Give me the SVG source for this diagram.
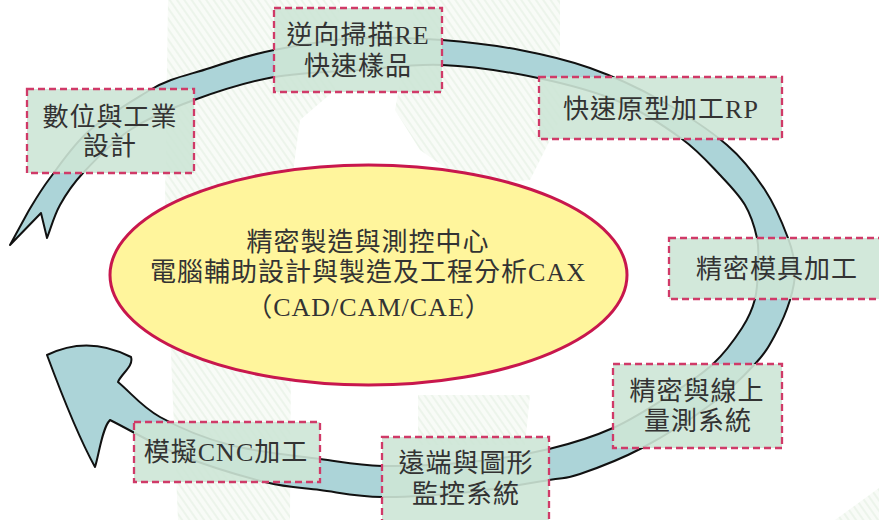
<svg xmlns="http://www.w3.org/2000/svg" width="879" height="520" viewBox="0 0 879 520">
  <defs>
    <pattern id="hatch" width="6" height="6" patternUnits="userSpaceOnUse" patternTransform="rotate(-35)">
      <rect width="6" height="6" fill="#f3f8f1"/>
      <line x1="1" y1="0" x2="1" y2="6" stroke="#dcebd8" stroke-width="1.6"/>
    </pattern>
    <style>
      .box { fill: #cde6d6; fill-opacity: 0.9; stroke: #d03a68; stroke-width: 2.3; stroke-dasharray: 7 4; }
      .lbl { font-family: "Liberation Serif", "Noto Sans CJK TC", serif; font-size: 26px; letter-spacing: 1px; fill: #333333; text-anchor: middle; }
      .band { fill: #acd4d8; stroke: #111; stroke-width: 2; stroke-linejoin: round; }
      .hub { fill: #fff59c; stroke: #c8174d; stroke-width: 3; }
      .tex { fill: url(#hatch); opacity: 0.6; }
    </style>
  </defs>

  <rect width="879" height="520" fill="#ffffff"/>

  <g id="background">
    <path class="tex" d="M168,0 L340,0 L335,90 L300,120 L292,180 L290,520 L178,520 L172,380 L165,200 Z"/>
    <path class="tex" d="M415,0 L560,0 L560,120 L530,180 L470,185 L420,150 L395,110 Z"/>
    <path class="tex" d="M418,395 L530,395 L525,445 L418,445 Z"/>
    <path class="tex" d="M835,520 L879,488 L879,520 Z"/>
  </g>

  <g id="connectors">
    <path class="band" d="M10,245 L28,212 C34.7,200.8 39.7,191.7 50,178 S73.3,144.3 90,130 S130,102.3 150,90 S189.3,75 210,68 S249,55 274,50 S332,39.7 360,38 S415.3,38 442,40 S495.3,45.3 520,50 S566.7,59.7 590,68 S637.2,87.2 660,100 S709.5,130 727,145 S754.8,174.5 765,190 S783,224.7 788,238 S794.7,259.7 795,270 S793.3,289.2 790,300 S780.8,324.3 775,335 S765.8,352.3 755,364 S728.8,391 710,405 S663.7,436.5 642,448 S595.5,468.7 580,474 S567.3,477 549,480 S497.8,489.2 470,492 S407,497.3 382,497 S339.5,492.5 320,490 S288.3,487.8 265,482 S205.8,465.3 180,455 S133.3,431.7 110,420 C102,428 99,455 95,467 C80,440 60,390 47,355 Q88,335 131,357 C134,366 121,374 118,382 C132,393.7 141.3,406.5 160,417 S203.3,438 230,445 S294.7,455.5 320,459 S357,465.5 382,466 S442.2,464.8 470,462 S525.2,454.7 549,449 S592.8,437 613,428 S653.3,405.7 670,395 S701,375.2 713,364 S735,338.8 742,328 S752.3,309.5 755,299 S757.7,275.2 758,265 S759.2,248 757,238 S751.2,215.5 745,205 S730.5,186 720,175 S698.7,151.2 682,139 S644,112.2 620,102 S567.7,84.2 538,78 S471.7,66.3 442,65 S388,68 360,70 S301.7,72 274,77 S218,91.2 194,100 S148.5,117.8 130,130 S94.7,160.5 83,173 S66,194.2 60,205 S51.3,227 47,238 L41,213 Z"/>
  </g>

  <g id="hub">
    <ellipse class="hub" cx="368.5" cy="275" rx="258.5" ry="110"/>
    <text class="lbl" x="368" y="251">精密製造與測控中心</text>
    <text class="lbl" x="368" y="281">電腦輔助設計與製造及工程分析CAX</text>
    <text class="lbl" x="369" y="316">（CAD/CAM/CAE）</text>
  </g>

  <g id="n-design">
    <rect class="box" x="27" y="89" width="167" height="84"/>
    <text class="lbl" x="110" y="126">數位與工業</text>
    <text class="lbl" x="110" y="155">設計</text>
  </g>

  <g id="n-reverse">
    <rect class="box" x="274" y="8" width="168" height="84"/>
    <text class="lbl" x="358" y="44">逆向掃描RE</text>
    <text class="lbl" x="358" y="75">快速樣品</text>
  </g>

  <g id="n-rp">
    <rect class="box" x="539" y="77" width="243" height="62"/>
    <text class="lbl" x="661" y="118">快速原型加工RP</text>
  </g>

  <g id="n-mold">
    <rect class="box" x="669" y="238" width="216" height="61"/>
    <text class="lbl" x="777" y="278">精密模具加工</text>
  </g>

  <g id="n-measure">
    <rect class="box" x="613" y="364" width="169" height="84"/>
    <text class="lbl" x="697" y="400">精密與線上</text>
    <text class="lbl" x="698" y="430">量測系統</text>
  </g>

  <g id="n-remote">
    <rect class="box" x="382" y="437" width="167" height="92"/>
    <text class="lbl" x="466" y="472">遠端與圖形</text>
    <text class="lbl" x="466" y="503">監控系統</text>
  </g>

  <g id="n-cnc">
    <rect class="box" x="134" y="422" width="186" height="60"/>
    <text class="lbl" x="226" y="461">模擬CNC加工</text>
  </g>
</svg>
